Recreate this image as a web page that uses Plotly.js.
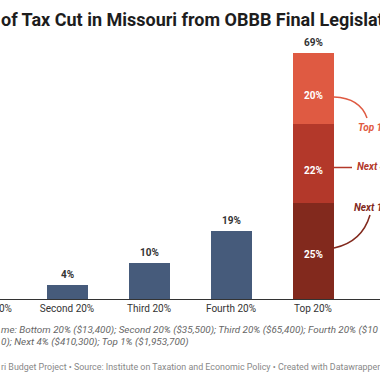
<!DOCTYPE html>
<html><head><meta charset="utf-8">
<script src="https://cdn.plot.ly/plotly-3.0.1.min.js"></script>
<style>
html,body{margin:0;padding:0;width:380px;height:380px;overflow:hidden;background:#fff}
#chart{position:absolute;left:-120px;top:0;width:640px;height:380px}
</style></head><body><div id="chart"></div>
<script>
// ---- data ----
const categories = ['Bottom 20%', 'Second 20%', 'Third 20%', 'Fourth 20%', 'Top 20%'];
const quintileCats = ['Bottom 20%', 'Second 20%', 'Third 20%', 'Fourth 20%'];
const quintileShares = [0, 4, 10, 19];
const quintileLabels = ['0%', '4%', '10%', '19%'];
const topGroups = ['Next 15%', 'Next 4%', 'Top 1%'];
const topGroupShares = [27, 22, 20];
const topGroupLabels = ['25%', '22%', '20%'];
const topGroupLabelValues = [25, 22, 20];
const topTotalLabel = '69%';
const titleText = 'of Tax Cut in Missouri from OBBB Final Legislation';
const noteLine1 = 'me: Bottom 20% ($13,400); Second 20% ($35,500); Third 20% ($65,400); Fourth 20% ($10';
const noteLine2 = '0); Next 4% ($410,300); Top 1% ($1,953,700)';
const sourceText = 'ri Budget Project \u2022 Source: Institute on Taxation and Economic Policy \u2022 Created with Datawrapper';

// ---- layout geometry ----
const L = 120, W = 640, H = 380, ml = 64, mr = 43, mt = 0, mb = 81;
const pw = W - ml - mr, ph = H - mt - mb;
const PX = x => (x + L - ml) / pw;          // visible px -> paper x
const PY = y => (ph - (y - mt)) / ph;       // visible px -> paper y

const blue = '#465b7b';
const segColors = ['#82291d', '#b3382a', '#df5a42'];
const FONT = 'Roboto, "Open Sans", sans-serif';

const traces = [{
  type: 'bar', x: quintileCats, y: quintileShares, marker: {color: blue},
  hoverinfo: 'skip', showlegend: false
}];
topGroups.forEach((g, i) => traces.push({
  type: 'bar', name: g, x: ['Top 20%'], y: [topGroupShares[i]],
  marker: {color: segColors[i]}, hoverinfo: 'skip', showlegend: false
}));

const ann = [];
quintileCats.forEach((c, i) => {
  if (quintileShares[i] > 0) ann.push({x: c, y: quintileShares[i], xref: 'x', yref: 'y',
    text: '<b>' + quintileLabels[i] + '</b>', showarrow: false, yanchor: 'bottom', yshift: 3,
    font: {family: FONT, size: 10, color: '#333'}});
});
const total = topGroupShares.reduce((a, b) => a + b, 0);
ann.push({x: 'Top 20%', y: total, xref: 'x', yref: 'y', text: '<b>' + topTotalLabel + '</b>',
  showarrow: false, yanchor: 'bottom', yshift: 3, font: {family: FONT, size: 10, color: '#333'}});
let cum = 0;
topGroupLabelValues.forEach((v, i) => {
  ann.push({x: 'Top 20%', y: cum + v / 2, xref: 'x', yref: 'y', text: '<b>' + topGroupLabels[i] + '</b>',
    showarrow: false, font: {family: FONT, size: 10, color: '#fff'}});
  cum += v;
});
// right-side group labels
const sideLabels = [
  {t: 'Top 1%', x: 356, y: 127, c: segColors[2]},
  {t: 'Next 4%', x: 355, y: 166, c: segColors[1]},
  {t: 'Next 15%', x: 352, y: 207, c: segColors[0]}
];
sideLabels.forEach(s => ann.push({xref: 'paper', yref: 'paper', x: PX(s.x), y: PY(s.y),
  xanchor: 'left', yanchor: 'middle', showarrow: false, text: '<b><i>' + s.t + '</i></b>',
  font: {family: FONT, size: 10, color: s.c}}));
// title, notes, source
ann.push({xref: 'paper', yref: 'paper', x: PX(-1), y: PY(20), xanchor: 'left', yanchor: 'middle',
  showarrow: false, text: '<b>' + titleText + '</b>', font: {family: FONT, size: 18, color: '#1d1d1d'}});
ann.push({xref: 'paper', yref: 'paper', x: PX(-1), y: PY(330), xanchor: 'left', yanchor: 'middle',
  showarrow: false, text: '<i>' + noteLine1 + '</i>', font: {family: FONT, size: 9.9, color: '#666'}});
ann.push({xref: 'paper', yref: 'paper', x: PX(-1), y: PY(342), xanchor: 'left', yanchor: 'middle',
  showarrow: false, text: '<i>' + noteLine2 + '</i>', font: {family: FONT, size: 9.9, color: '#666'}});
ann.push({xref: 'paper', yref: 'paper', x: PX(-1), y: PY(367), xanchor: 'left', yanchor: 'middle',
  showarrow: false, text: sourceText, font: {family: FONT, size: 8.9, color: '#888'}});

function path(pts) {
  // pts: [[cmd, x, y], ...] in visible px
  return pts.map(p => p[0] + ' ' + p.slice(1).reduce((acc, v, k) => {
    acc.push(k % 2 === 0 ? PX(v) : PY(v)); return acc; }, []).join(' ')).join(' ');
}
const shapes = [
  {type: 'path', xref: 'paper', yref: 'paper', line: {color: segColors[2], width: 1.5},
   path: path([['M', 334, 97], ['Q', 360, 98, 367, 118]])},
  {type: 'path', xref: 'paper', yref: 'paper', line: {color: segColors[1], width: 1.5},
   path: path([['M', 334, 167.5], ['L', 352, 167.5]])},
  {type: 'path', xref: 'paper', yref: 'paper', line: {color: segColors[0], width: 1.5},
   path: path([['M', 334, 248], ['Q', 362, 242, 370, 215]])}
];

const layout = {
  width: W, height: H, margin: {l: ml, r: mr, t: mt, b: mb},
  barmode: 'stack', bargap: 0.5,
  paper_bgcolor: '#fff', plot_bgcolor: '#fff',
  xaxis: {type: 'category', categoryorder: 'array', categoryarray: categories,
    range: [-0.5, 6.0], showline: true, linecolor: '#333', linewidth: 1,
    showgrid: false, zeroline: false, ticks: '', fixedrange: true,
    tickfont: {family: FONT, size: 10, color: '#333'}},
  yaxis: {range: [0, ph / 3.572], visible: false, showgrid: false, zeroline: false, fixedrange: true},
  annotations: ann, shapes: shapes, showlegend: false
};
Plotly.newPlot('chart', traces, layout, {staticPlot: true, displayModeBar: false});
</script></body></html>
